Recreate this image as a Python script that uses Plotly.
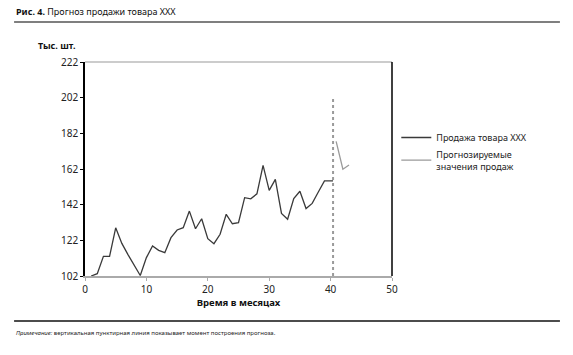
import plotly.graph_objects as go

months = [1, 2, 3, 4, 5, 6, 7, 8, 9, 10, 11, 12, 13, 14, 15, 16, 17, 18, 19, 20,
          21, 22, 23, 24, 25, 26, 27, 28, 29, 30, 31, 32, 33, 34, 35, 36, 37, 38, 39, 40.4]
sales = [102, 103.3, 113, 113, 129, 120.3, 114, 108, 102.3, 112.3, 118.8, 116.4, 115.1, 123.5,
         127.8, 129.1, 138.4, 128.5, 134.1, 122.9, 120.1, 125.4, 136.6, 131.3, 131.9, 145.9,
         145.3, 148.1, 164, 150, 156.2, 137.1, 133.8, 145.4, 149.5, 139.8, 142.7, 149.1, 155.3, 155.3]
forecast_months = [40.9, 42, 43]
forecast = [177.5, 161.9, 164.2]
cut_x = 40.4
cut_y = [102, 202]
yticks = [102, 122, 142, 162, 182, 202, 222]
xticks = [0, 10, 20, 30, 40, 50]

FONT = "Noto Sans"

fig = go.Figure()
fig.add_trace(go.Scatter(x=months, y=sales, mode="lines", name="Продажа товара XXX",
                         line=dict(color="#3a3a3a", width=1.3)))
fig.add_trace(go.Scatter(x=forecast_months, y=forecast, mode="lines",
                         name="Прогнозируемые<br>значения продаж",
                         line=dict(color="#9a9a9a", width=1.3)))
fig.add_trace(go.Scatter(x=[cut_x, cut_x], y=cut_y, mode="lines", showlegend=False,
                         line=dict(color="#9a9a9a", width=2, dash="dot")))

fig.update_layout(
    width=573, height=355,
    margin=dict(l=85, r=181, t=62, b=79),
    paper_bgcolor="white", plot_bgcolor="white",
    font=dict(family=FONT, size=10, color="#222"),
    showlegend=True,
    legend=dict(x=1.014, y=0.715, xanchor="left", yanchor="top", itemwidth=30,
                font=dict(size=9, color="#222"), tracegroupgap=9,
                bgcolor="rgba(0,0,0,0)"),
    xaxis=dict(range=[0, 50], tickvals=xticks, showgrid=False, zeroline=False,
               showline=True, linecolor="#aaaaaa", linewidth=1.5,
               ticks="outside", ticklen=3, tickcolor="#aaaaaa",
               tickfont=dict(size=10, color="#222"),
               title=dict(text="<b>Время в месяцах</b>", font=dict(size=9.5, color="#111"), standoff=2)),
    yaxis=dict(range=[102, 222], tickvals=yticks, showgrid=False, zeroline=False,
               showline=True, linecolor="#000", linewidth=1.5,
               ticks="outside", ticklen=3, tickcolor="#000",
               tickfont=dict(size=10, color="#222")),
    shapes=[
        dict(type="line", xref="paper", yref="paper", x0=0, x1=1, y0=1, y1=1,
             line=dict(color="#cccccc", width=2)),
        dict(type="line", xref="paper", yref="paper", x0=1, x1=1, y0=0, y1=1,
             line=dict(color="#000", width=1.5)),
        dict(type="line", xref="paper", yref="paper", x0=-0.231, x1=1.547, y0=1.187, y1=1.187,
             line=dict(color="#555", width=1.5)),
        dict(type="line", xref="paper", yref="paper", x0=-0.231, x1=1.547, y0=-0.21, y1=-0.21,
             line=dict(color="#111", width=1.5)),
    ],
    annotations=[
        dict(text="<b>Рис. 4.</b> Прогноз продажи товара XXX", xref="paper", yref="paper",
             x=-0.231, y=1.238, xanchor="left", yanchor="middle", showarrow=False,
             font=dict(size=9, color="#111")),
        dict(text="<b>Тыс. шт.</b>", xref="paper", yref="paper",
             x=-0.16, y=1.079, xanchor="left", yanchor="middle", showarrow=False,
             font=dict(size=9, color="#111")),
        dict(text="<i>Примечание:</i> вертикальная пунктирная линия показывает момент построения прогноза.",
             xref="paper", yref="paper", x=-0.231, y=-0.266, xanchor="left", yanchor="middle",
             showarrow=False, font=dict(size=6, color="#222")),
    ],
)

fig.write_html("out.html", config={"displayModeBar": False},
               post_script="document.body.style.margin='0px';document.body.style.overflow='hidden';")
